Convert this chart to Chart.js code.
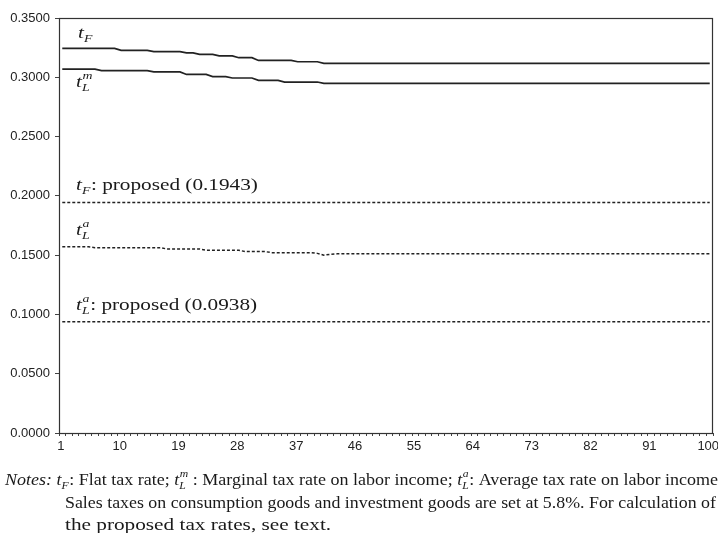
<!DOCTYPE html>
<html>
<head>
<meta charset="utf-8">
<script src="https://cdn.jsdelivr.net/npm/chart.js@4.4.1/dist/chart.umd.min.js"></script>
<style>
  html, body { margin: 0; padding: 0; background: #fff; }
  #wrap { position: relative; width: 718px; height: 533px; }
</style>
</head>
<body>
<div id="wrap"><canvas id="c" width="718" height="533"></canvas></div>
<script>
// Periods on the horizontal axis
const periods = Array.from({ length: 100 }, (_, i) => String(i + 1));
const xTickLabels = ['1', '10', '19', '28', '37', '46', '55', '64', '73', '82', '91', '100'];
const yTickValues = [0, 0.05, 0.10, 0.15, 0.20, 0.25, 0.30, 0.35];

// Flat tax rate t_F by period
const flatRate = [
  0.3244, 0.3244, 0.3244, 0.3244, 0.3244, 0.3244, 0.3244, 0.3244, 0.3244, 0.3227,
  0.3227, 0.3227, 0.3227, 0.3227, 0.3216, 0.3216, 0.3216, 0.3216, 0.3216, 0.3206,
  0.3206, 0.3193, 0.3193, 0.3193, 0.3180, 0.3180, 0.3180, 0.3165, 0.3165, 0.3165,
  0.3142, 0.3142, 0.3142, 0.3142, 0.3142, 0.3142, 0.3131, 0.3131, 0.3131, 0.3131,
  0.3117, 0.3117, 0.3117, 0.3117, 0.3117, 0.3117, 0.3117, 0.3117, 0.3117, 0.3117,
  0.3117, 0.3117, 0.3117, 0.3117, 0.3117, 0.3117, 0.3117, 0.3117, 0.3117, 0.3117,
  0.3117, 0.3117, 0.3117, 0.3117, 0.3117, 0.3117, 0.3117, 0.3117, 0.3117, 0.3117,
  0.3117, 0.3117, 0.3117, 0.3117, 0.3117, 0.3117, 0.3117, 0.3117, 0.3117, 0.3117,
  0.3117, 0.3117, 0.3117, 0.3117, 0.3117, 0.3117, 0.3117, 0.3117, 0.3117, 0.3117,
  0.3117, 0.3117, 0.3117, 0.3117, 0.3117, 0.3117, 0.3117, 0.3117, 0.3117, 0.3117
];

// Marginal tax rate on labor income t_L^m by period
const marginalLabor = [
  0.3068, 0.3068, 0.3068, 0.3068, 0.3068, 0.3068, 0.3056, 0.3056, 0.3056, 0.3056,
  0.3056, 0.3056, 0.3056, 0.3056, 0.3045, 0.3045, 0.3045, 0.3045, 0.3045, 0.3024,
  0.3024, 0.3024, 0.3024, 0.3006, 0.3006, 0.3006, 0.2994, 0.2994, 0.2994, 0.2994,
  0.2974, 0.2974, 0.2974, 0.2974, 0.2960, 0.2960, 0.2960, 0.2960, 0.2960, 0.2960,
  0.2948, 0.2948, 0.2948, 0.2948, 0.2948, 0.2948, 0.2948, 0.2948, 0.2948, 0.2948,
  0.2948, 0.2948, 0.2948, 0.2948, 0.2948, 0.2948, 0.2948, 0.2948, 0.2948, 0.2948,
  0.2948, 0.2948, 0.2948, 0.2948, 0.2948, 0.2948, 0.2948, 0.2948, 0.2948, 0.2948,
  0.2948, 0.2948, 0.2948, 0.2948, 0.2948, 0.2948, 0.2948, 0.2948, 0.2948, 0.2948,
  0.2948, 0.2948, 0.2948, 0.2948, 0.2948, 0.2948, 0.2948, 0.2948, 0.2948, 0.2948,
  0.2948, 0.2948, 0.2948, 0.2948, 0.2948, 0.2948, 0.2948, 0.2948, 0.2948, 0.2948
];

// Average tax rate on labor income t_L^a by period
const averageLabor = [
  0.1571, 0.1571, 0.1571, 0.1571, 0.1571, 0.1563, 0.1563, 0.1563, 0.1563, 0.1563,
  0.1563, 0.1563, 0.1563, 0.1563, 0.1563, 0.1563, 0.1552, 0.1552, 0.1552, 0.1552,
  0.1552, 0.1552, 0.1541, 0.1541, 0.1541, 0.1541, 0.1541, 0.1541, 0.1530, 0.1530,
  0.1530, 0.1530, 0.1521, 0.1521, 0.1521, 0.1521, 0.1521, 0.1521, 0.1521, 0.1515,
  0.1500, 0.1507, 0.1511, 0.1511, 0.1511, 0.1511, 0.1511, 0.1511, 0.1511, 0.1511,
  0.1511, 0.1511, 0.1511, 0.1511, 0.1511, 0.1511, 0.1511, 0.1511, 0.1511, 0.1511,
  0.1511, 0.1511, 0.1511, 0.1511, 0.1511, 0.1511, 0.1511, 0.1511, 0.1511, 0.1511,
  0.1511, 0.1511, 0.1511, 0.1511, 0.1511, 0.1511, 0.1511, 0.1511, 0.1511, 0.1511,
  0.1511, 0.1511, 0.1511, 0.1511, 0.1511, 0.1511, 0.1511, 0.1511, 0.1511, 0.1511,
  0.1511, 0.1511, 0.1511, 0.1511, 0.1511, 0.1511, 0.1511, 0.1511, 0.1511, 0.1511
];

// Proposed constant rates
const proposedFlat = 0.1943;
const proposedAverageLabor = 0.0938;

const noteLine2 = 'Sales taxes on consumption goods and investment goods are set at 5.8%. For calculation of';
const noteLine3 = 'the proposed tax rates, see text.';

const INK = '#1a1a1a';
const SERIF = '"Liberation Serif", "Times New Roman", serif';
const SANS = '"Liberation Sans", Arial, sans-serif';
const MAIN = 17, SMALL = 11;
const SX = 1.25;           // horizontal set width of the serif type

function setFont(ctx, size, italic) {
  ctx.font = (italic ? 'italic ' : '') + size + 'px ' + SERIF;
}

function putText(ctx, text, x, y, sx) {
  ctx.save();
  ctx.translate(x, y);
  ctx.scale(sx, 1);
  ctx.fillText(text, 0, 0);
  ctx.restore();
}

// Lays out a run of pieces: plain/italic text, subscripts, superscripts or stacked sub+sup.
// With draw=false only the unscaled width is returned.
function richRun(ctx, x, y, pieces, sx, draw) {
  ctx.textAlign = 'left';
  ctx.textBaseline = 'alphabetic';
  ctx.fillStyle = INK;
  let w0 = 0;
  for (const p of pieces) {
    if (p.t !== undefined) {
      setFont(ctx, MAIN, p.i);
      if (draw) putText(ctx, p.t, x + w0 * sx, y, sx);
      w0 += ctx.measureText(p.t).width;
    } else {
      setFont(ctx, SMALL, true);
      let w = 0;
      if (p.sup) {
        if (draw) putText(ctx, p.sup, x + w0 * sx + 0.5, y - 8, sx);
        w = Math.max(w, ctx.measureText(p.sup).width);
      }
      if (p.sub) {
        if (draw) putText(ctx, p.sub, x + w0 * sx, y + 4, sx);
        w = Math.max(w, ctx.measureText(p.sub).width);
      }
      w0 += w + 0.5;
    }
  }
  return w0;
}
const drawRich = (ctx, x, y, pieces, sx = SX) => richRun(ctx, x, y, pieces, sx, true);
// Set a justified caption line so that it runs from x to right
const drawJustified = (ctx, x, right, y, pieces) =>
  drawRich(ctx, x, y, pieces, (right - x) / richRun(ctx, x, y, pieces, 1, false));

const framePlugin = {
  id: 'frame',
  beforeDatasetsDraw(chart) {
    const { ctx, chartArea: a } = chart;
    ctx.save();
    ctx.strokeStyle = '#333';
    ctx.lineWidth = 1.2;
    ctx.strokeRect(a.left + 0.5, a.top + 0.5, a.right - a.left - 1, a.bottom - a.top);
    ctx.restore();
  }
};

const labelPlugin = {
  id: 'seriesLabels',
  afterDraw(chart) {
    const { ctx, chartArea: a } = chart;
    const ys = chart.scales.y;
    const lx = a.left + 17;
    ctx.save();
    drawRich(ctx, lx + 2, ys.getPixelForValue(flatRate[0]) - 10, [{ t: 't', i: true }, { sub: 'F' }]);
    drawRich(ctx, lx, ys.getPixelForValue(marginalLabor[0]) + 18, [{ t: 't', i: true }, { sup: 'm', sub: 'L' }]);
    drawRich(ctx, lx, ys.getPixelForValue(proposedFlat) - 13,
      [{ t: 't', i: true }, { sub: 'F' }, { t: ': proposed (' + proposedFlat.toFixed(4) + ')' }]);
    drawRich(ctx, lx, ys.getPixelForValue(averageLabor[0]) - 12, [{ t: 't', i: true }, { sup: 'a', sub: 'L' }]);
    drawRich(ctx, lx, ys.getPixelForValue(proposedAverageLabor) - 12,
      [{ t: 't', i: true }, { sup: 'a', sub: 'L' }, { t: ': proposed (' + proposedAverageLabor.toFixed(4) + ')' }]);

    // Notes under the chart
    drawJustified(ctx, 5, 718, 485, [
      { t: 'Notes:', i: true }, { t: ' ' },
      { t: 't', i: true }, { sub: 'F' }, { t: ': Flat tax rate; ' },
      { t: 't', i: true }, { sup: 'm', sub: 'L' }, { t: ' : Marginal tax rate on labor income; ' },
      { t: 't', i: true }, { sup: 'a', sub: 'L' }, { t: ': Average tax rate on labor income' }
    ]);
    drawJustified(ctx, 65, 716, 508, [{ t: noteLine2 }]);
    drawRich(ctx, 65, 530, [{ t: noteLine3 }]);
    ctx.restore();
  }
};

const solid = (label, data) => ({
  label, data, borderColor: '#222', borderWidth: 1.7, pointRadius: 0, tension: 0, fill: false
});
const dashed = (label, data) => ({
  label, data, borderColor: '#222', borderWidth: 1.5, borderDash: [3, 2], pointRadius: 0, tension: 0, fill: false
});
const flatSegment = v => [{ x: periods[0], y: v }, { x: periods[periods.length - 1], y: v }];

new Chart(document.getElementById('c'), {
  type: 'line',
  data: {
    labels: periods,
    datasets: [
      solid('t_F', flatRate),
      solid('t_L^m', marginalLabor),
      dashed('t_F proposed', flatSegment(proposedFlat)),
      dashed('t_L^a', averageLabor),
      dashed('t_L^a proposed', flatSegment(proposedAverageLabor))
    ]
  },
  options: {
    responsive: false,
    devicePixelRatio: 1,
    animation: false,
    events: [],
    layout: { padding: { left: 0, right: 5, top: 18, bottom: 70 } },
    plugins: { legend: { display: false }, tooltip: { enabled: false } },
    scales: {
      x: {
        type: 'category',
        offset: true,
        border: { display: false },
        grid: { display: true, drawOnChartArea: false, offset: true, tickLength: 3, color: '#444', lineWidth: 1 },
        ticks: {
          autoSkip: false, maxRotation: 0, minRotation: 0, padding: 3, labelOffset: -1.5,
          color: '#222', font: { family: SANS, size: 13 },
          callback: (v, i) => xTickLabels.includes(periods[i]) ? periods[i] : ''
        },
        afterFit(s) { s.height = 30; s.paddingLeft = 0; s.paddingRight = 0; }
      },
      y: {
        min: 0, max: 0.35,
        border: { display: false },
        grid: { display: true, drawOnChartArea: false, tickLength: 4, color: '#444', lineWidth: 1 },
        afterBuildTicks(s) { s.ticks = yTickValues.map(v => ({ value: v })); },
        ticks: {
          padding: 5, color: '#222', font: { family: SANS, size: 13 },
          callback: v => Number(v).toFixed(4)
        },
        afterFit(s) { s.width = 59; s.paddingTop = 0; s.paddingBottom = 0; }
      }
    }
  },
  plugins: [framePlugin, labelPlugin]
});
</script>
</body>
</html>
